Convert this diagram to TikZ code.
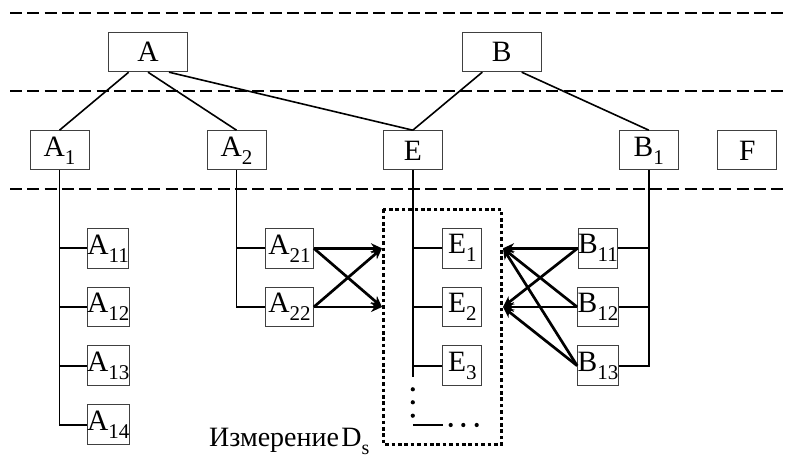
\documentclass[tikz,border=0pt]{standalone}
\usepackage{fontspec}
\setmainfont{Liberation Serif}
\usetikzlibrary{arrows.meta}
\newcommand\subtx[1]{\raisebox{-8pt}{\fontsize{21}{21}\selectfont #1}}
\tikzset{
  lbl/.style={draw=black!75, line width=1pt, inner sep=0pt, font=\fontsize{29.5}{29.5}\selectfont},
  bigbox/.style={lbl, minimum width=78.6pt, minimum height=39pt},
  midbox/.style={lbl, minimum width=59pt, minimum height=39.3pt},
  smallbox/.style={lbl, minimum width=39.3pt, minimum height=39.6pt},
  widebox/.style={lbl, minimum width=47.6pt, minimum height=39.6pt},
  layer/.style={line width=1.8pt, dash pattern=on 12pt off 5.3pt},
  tree/.style={line width=1.6pt},
  arr/.style={line width=2.7pt, -{Stealth[length=11pt,width=10pt,inset=3.5pt]}},
  dimbox/.style={line width=2.8pt, dash pattern=on 3.6pt off 2.8pt},
  dotmark/.style={fill=black, draw=none}
}
\begin{document}
\begin{tikzpicture}[x=1pt,y=-1pt]
\useasboundingbox (0,0) rectangle (787,462);
% layer lines
\coordinate (L1a) at (10,13); \coordinate (L1b) at (787,13);
\coordinate (L2a) at (10,91); \coordinate (L2b) at (787,91);
\coordinate (L3a) at (10,189); \coordinate (L3b) at (787,189);
\draw[layer] (L1a) -- (L1b);
\draw[layer] (L2a) -- (L2b);
\draw[layer] (L3a) -- (L3b);
% top nodes
\node[bigbox] (A) at (148,52.2) {A};
\node[bigbox] (B) at (501.7,52.2) {B};
% middle nodes
\node[midbox] (A1) at (59.5,150.35) {A\subtx{1}};
\node[midbox] (A2) at (236.5,150.35) {A\subtx{2}};
\node[midbox] (E) at (412.8,150.35) {E};
\node[midbox] (B1) at (648.8,150.35) {B\subtx{1}};
\node[midbox] (F) at (747.2,150.35) {F};
% bottom nodes
\node[smallbox] (A11) at (108.2,248.3) {A\subtx{11}};
\node[smallbox] (A12) at (108.2,307) {A\subtx{12}};
\node[smallbox] (A13) at (108.2,365.7) {A\subtx{13}};
\node[smallbox] (A14) at (108.2,424.7) {A\subtx{14}};
\node[widebox] (A21) at (289.5,248.3) {A\subtx{21}};
\node[widebox] (A22) at (289.5,307) {A\subtx{22}};
\node[smallbox] (E1) at (462.3,248.3) {E\subtx{1}};
\node[smallbox] (E2) at (462.3,307) {E\subtx{2}};
\node[smallbox] (E3) at (462.3,365.7) {E\subtx{3}};
\node[smallbox] (B11) at (598,248.3) {B\subtx{11}};
\node[smallbox] (B12) at (598,307) {B\subtx{12}};
\node[smallbox] (B13) at (598,365.7) {B\subtx{13}};
% hierarchy lines
\draw[tree] ([xshift=-19.3pt]A.south) -- (A1.north);
\draw[tree] (A.south) -- (A2.north);
\draw[tree] ([xshift=21pt]A.south) -- (E.north);
\draw[tree] ([xshift=-19.4pt]B.south) -- (E.north);
\draw[tree] ([xshift=20pt]B.south) -- (B1.north);
% A1 subtree
\draw[tree] (A1.south) -- (A1.south |- A14.west) -- (A14.west);
\draw[tree] (A1.south |- A11.west) -- (A11.west);
\draw[tree] (A1.south |- A12.west) -- (A12.west);
\draw[tree] (A1.south |- A13.west) -- (A13.west);
% A2 subtree
\draw[tree] (A2.south) -- (A2.south |- A22.west) -- (A22.west);
\draw[tree] (A2.south |- A21.west) -- (A21.west);
% E subtree
\coordinate (Eend) at (412.8,376.7);
\draw[tree] (E.south) -- (Eend);
\draw[tree] (E.south |- E1.west) -- (E1.west);
\draw[tree] (E.south |- E2.west) -- (E2.west);
\draw[tree] (E.south |- E3.west) -- (E3.west);
\coordinate (Ed1) at (412.8,389.3);
\coordinate (Ed2) at (412.8,402.3);
\coordinate (Ed3) at (412.8,415.7);
\coordinate (Eh1) at (412.8,425);
\coordinate (Eh2) at (442.7,425);
\coordinate (Eh3) at (450.7,425);
\coordinate (Eh4) at (463.3,425);
\coordinate (Eh5) at (476.7,425);
\foreach \p in {Ed1,Ed2,Ed3,Eh3,Eh4,Eh5} \fill[dotmark] (\p) circle (2.1pt);
\draw[tree] (Eh1) -- (Eh2);
% B1 subtree
\draw[tree] (B1.south) -- (B1.south |- B13.east) -- (B13.east);
\draw[tree] (B1.south |- B11.east) -- (B11.east);
\draw[tree] (B1.south |- B12.east) -- (B12.east);
% dimension box
\coordinate (D1) at (383.3,209.3);
\coordinate (D2) at (501.7,444.3);
\draw[dimbox] (D1) rectangle (D2);
\node[anchor=base west, inner sep=0pt, font=\fontsize{28}{28}\selectfont] (lab) at (209,446.7) {Измерение\hspace{0.08em}D\raisebox{-8pt}{\fontsize{20}{20}\selectfont s}};
% arrow targets
\coordinate (TL1) at (382,248.3);
\coordinate (TL2) at (382,307);
\coordinate (TR1) at (503,248.3);
\coordinate (TR2) at (503,307);
\draw[arr] (A21.east) -- (TL1);
\draw[arr] (A21.east) -- (TL2);
\draw[arr] (A22.east) -- (TL1);
\draw[arr] (A22.east) -- (TL2);
\draw[arr] (B11.west) -- (TR1);
\draw[arr] (B11.west) -- (TR2);
\draw[arr] (B12.west) -- (TR1);
\draw[arr] (B12.west) -- (TR2);
\draw[arr] (B13.west) -- (TR1);
\draw[arr] (B13.west) -- (TR2);
\end{tikzpicture}
\end{document}
